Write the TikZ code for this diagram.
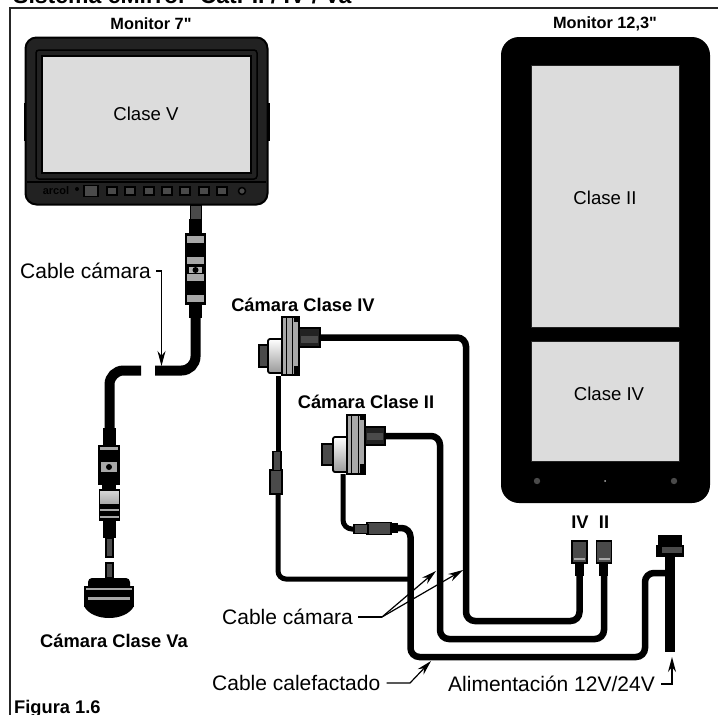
\documentclass[tikz,border=0pt]{standalone}
\usepackage{fontspec}
\setmainfont{Liberation Sans}[Ligatures=TeXOff]
\usepackage{tikz}
\usetikzlibrary{arrows.meta,positioning,calc}
\definecolor{screengrey}{HTML}{DCDCDC}
\definecolor{bezel}{HTML}{222222}
\definecolor{plugdark}{HTML}{4A4A4A}
\definecolor{plugband}{HTML}{A8A8A8}
\tikzset{
  txt/.style={font=\fontsize{21}{23}\selectfont, inner sep=0pt},
  screentxt/.style={font=\fontsize{18.6}{20}\selectfont, inner sep=0pt},
  boldtxt/.style={font=\fontsize{18.3}{20}\selectfont\bfseries, inner sep=0pt},
  montxt/.style={font=\fontsize{16.3}{18}\selectfont\bfseries, inner sep=0pt},
  screen/.style={draw=bezel, line width=0.8pt, fill=screengrey, inner sep=0pt},
  btn/.style={draw=black, line width=1.2pt, fill=plugdark, minimum width=10pt, minimum height=8pt, inner sep=0pt},
  plug/.style={draw=black, line width=1.5pt, fill=plugdark, inner sep=0pt},
  cable/.style={line width=6.5pt, black, rounded corners=9pt},
  thickcable/.style={line width=10pt, black, rounded corners=14pt},
  leader/.style={line width=1.2pt, -{Stealth[length=15pt,width=8pt]}},
  leaderline/.style={line width=1.2pt}
}
\begin{document}
\begin{tikzpicture}[x=1pt,y=-1pt]
    \useasboundingbox (0,0) rectangle (718,715);

    % frame and headings
    \draw[line width=2pt, gray!30!black] (718,8) -- (10,8) -- (10,715);
    \node[anchor=base west, font=\fontsize{23}{25}\selectfont\bfseries, inner sep=0pt] (title) at (13,3) {Sistema eMirror\ \ Cat. II / IV / Va};
    \node[anchor=base west, boldtxt] (fig) at (14,713) {Figura 1.6};
    \node[montxt] (mon7lbl) at (151,24) {Monitor 7"};
    \node[montxt] (mon12lbl) at (605,24) {Monitor 12,3"};

    % small monitor
    \draw[fill=black] (24.5,103) rectangle (269.5,140);
    \node[draw=black, line width=2pt, fill=bezel, rounded corners=11pt, minimum width=242pt, minimum height=167pt, inner sep=0pt] (mon7) at (146.5,121) {};
    \node[draw=black, line width=1.5pt, fill=bezel, rounded corners=3pt, minimum width=221pt, minimum height=129pt, inner sep=0pt] (mon7in) at (146.5,114.5) {};
    \node[screen, draw=black, line width=1.8pt, minimum width=209pt, minimum height=117pt] (scrV) at (146.5,114.5) {};
    \node[screentxt] (lblV) at (146,114) {Clase V};
    \draw[line width=1.5pt] (27,182) -- (266,182);
    \node[font=\fontsize{11}{12}\selectfont\bfseries, inner sep=0pt] (logo) at (56,191) {arcol};
    \fill (77,189) circle (2);
    \node[btn, minimum width=14pt, minimum height=11pt] (btn0) at (91,191) {};
    \node[btn] (btn1) at (112,191) {};
    \node[btn] (btn2) at (130,191) {};
    \node[btn] (btn3) at (149,191) {};
    \node[btn] (btn4) at (167,191) {};
    \node[btn] (btn5) at (185,191) {};
    \node[btn] (btn6) at (204,191) {};
    \node[btn] (btn7) at (222,191) {};
    \draw[line width=1.5pt, fill=plugdark] (242,191) circle (3.5);

    % large monitor
    \node[fill=black, rounded corners=18pt, minimum width=209pt, minimum height=466pt, inner sep=0pt] (mon12) at (605.5,270) {};
    \node[screen, minimum width=148pt, minimum height=262pt] (scrII) at (605,196) {};
    \node[screen, minimum width=148pt, minimum height=120pt] (scrIV) at (605,401) {};
    \node[screentxt] (lblII) at (605,198) {Clase II};
    \node[screentxt] (lblIV) at (609,394) {Clase IV};
    \fill[plugdark] (537,481) circle (3.2);
    \fill[plugdark] (674,481) circle (3.2);
    \fill[gray!60] (605,481) circle (1);

    % camera cable of the small monitor
    \fill[plugdark] (190,205) rectangle (201,222);
    \draw[black, line width=0.8pt] (190,205) rectangle (201,222);
    \fill (189,219) rectangle (202,234);
    \fill (185,233) rectangle (206,305);
    \fill[plugband] (187,236) rectangle (204,243);
    \fill[plugband] (187,257) rectangle (204,264);
    \fill[white!70!black] (189,267) rectangle (202,273);
    \fill (195.5,270) circle (3);
    \fill[plugband] (187,274) rectangle (204,281);
    \fill[plugband] (187,295) rectangle (204,302);
    \fill (189,305) rectangle (202,318);
    \coordinate (cabTop) at (195.5,318);
    \coordinate (cabGapR) at (155,370.5);
    \coordinate (cabGapL) at (141,370.5);
    \coordinate (cabVa) at (109.5,428);
    \draw[thickcable] (cabTop) |- (cabGapR);
    \draw[thickcable] (cabGapL) -| (cabVa);

    % plug and camera class Va
    \fill (103,428) rectangle (116,446);
    \fill (98,445) rectangle (120,485);
    \fill[plugband] (100,447) rectangle (118,450);
    \fill[plugband] (101,462) rectangle (117,472);
    \fill (109,467) circle (3);
    \fill (102,485) rectangle (116,491);
    \draw[line width=1.5pt, top color=gray!30, bottom color=gray!70] (99.5,490) rectangle (119.5,505);
    \fill (99,505) rectangle (120,521);
    \fill[plugband] (100,509) rectangle (119,511);
    \fill[plugband] (100,516) rectangle (119,518);
    \fill (103,521) rectangle (116,538);
    \draw[fill=plugdark, line width=1.5pt] (106,538) rectangle (113,557);
    \draw[fill=plugdark, line width=1.5pt] (106,563) rectangle (113,578);
    \fill[rounded corners=4pt] (88,578) rectangle (130,596);
    \fill (84,586) rectangle (134,607);
    \fill[plugband] (86,588) rectangle (132,590);
    \fill[plugband] (88,597) rectangle (130,600);
    \fill (84,606) .. controls (92,622) and (126,622) .. (134,606) -- cycle;
    \node[boldtxt] (camVa) at (114,641) {Cámara Clase Va};

    % camera class IV
    \node[boldtxt] (camIV) at (303,305) {Cámara Clase IV};
    \draw[line width=1.8pt, fill=plugdark] (259,345) rectangle (268,367);
    \draw[line width=1.8pt, top color=white, bottom color=gray!80, rounded corners=2pt] (268,339) rectangle (283,373);
    \draw[line width=2pt, fill=plugband] (282,317) rectangle (299,375);
    \draw[line width=1pt] (286,317) -- (286,375);
    \draw[line width=1pt] (292,317) -- (292,375);
    \fill (294,316) rectangle (300,322);
    \fill (294,366) rectangle (300,376);
    \node[plug, fill=bezel, minimum width=21pt, minimum height=19pt] (backIV) at (309.5,337.5) {};
    \fill[plugdark] (301,336) rectangle (318,343);
    \coordinate (baseIV) at (278,376);

    % camera class II
    \node[boldtxt] (camII) at (366,402) {Cámara Clase II};
    \draw[line width=1.8pt, fill=plugdark] (322,444) rectangle (333,465);
    \draw[line width=1.8pt, top color=white, bottom color=gray!80, rounded corners=2pt] (333,437) rectangle (348,472);
    \draw[line width=2pt, fill=plugband] (347,415) rectangle (365,474);
    \draw[line width=1pt] (351,415) -- (351,474);
    \draw[line width=1pt] (358,415) -- (358,474);
    \fill (360,414) rectangle (366,420);
    \fill (360,464) rectangle (366,475);
    \node[plug, fill=bezel, minimum width=20pt, minimum height=18pt] (backII) at (375,436) {};
    \fill[plugdark] (367,433) rectangle (383,440);
    \coordinate (baseII) at (343,474);

    % plugs at the bottom right
    \node[plug, minimum width=15pt, minimum height=22pt] (plugIV) at (579.5,552) {};
    \node[plug, minimum width=15pt, minimum height=22pt] (plugII) at (604,552) {};
    \fill[plugband] (574,558) rectangle (585,560);
    \fill[plugband] (598.5,558) rectangle (609.5,560);
    \fill[black] (575,562) rectangle (584,576);
    \fill[black] (599,562) rectangle (608,576);
    \node[boldtxt] (lblplugIV) at (580,522) {IV};
    \node[boldtxt] (lblplugII) at (604,522) {II};
    \node[fill=black, minimum width=28pt, minimum height=12pt, inner sep=0pt] (power) at (670,551) {};
    \fill (658,535) rectangle (682,546);
    \fill[plugdark] (662,547) rectangle (682,553);
    \coordinate (powEnd) at (670,652);
    \coordinate (powJoin) at (670,573);

    % inline plugs
    \node[plug, minimum width=12pt, minimum height=24pt] (inlIV) at (276,482) {};
    \node[plug, minimum width=8pt, minimum height=19pt] (inlIVb) at (277,461) {};
    \node[plug, minimum width=24pt, minimum height=12pt] (inlII) at (379,528.5) {};
    \node[plug, minimum width=14pt, minimum height=9pt] (inlIIb) at (361,529) {};
    \node[plug, fill=black, minimum width=6pt, minimum height=9pt] (inlIIc) at (394,528) {};

    % coordinates of the cable bends
    \coordinate (bendIV) at (466,621);
    \coordinate (bendII) at (440,639);
    \coordinate (heatA) at (410.5,657);
    \coordinate (heatB) at (645,657);
    \coordinate (lowIV) at (278,579);
    \coordinate (lowJoin) at (410,579);

    % cables
    \draw[cable] (backIV.east) -| (bendIV) -| ([yshift=-1pt]plugIV.south);
    \draw[cable] (backII.east) -| (bendII) -| ([yshift=-1pt]plugII.south);
    \draw[cable, line width=5pt] (baseII) |- (inlIIb.west);
    \draw[cable] (inlIIc.east) -| (heatA) -| (645,620) |- (powJoin);
    \draw[line width=5pt] (baseIV) -- (inlIVb.north -| baseIV);
    \draw[line width=5pt, rounded corners=8pt] (inlIV.south -| baseIV) |- (lowJoin);
    \draw[line width=10pt] (power.south) -- (powEnd);

    % labels with their leaders
    \node[txt, anchor=west] (lblCam) at (20,271) {Cable cámara};
    \node[txt, anchor=west] (lblCam2) at (222,617) {Cable cámara};
    \node[txt, anchor=west] (lblHeat) at (212,683) {Cable calefactado};
    \node[txt, anchor=west] (lblPow) at (448,684) {Alimentación 12V/24V};
    \coordinate (tipCam) at (161.5,366);
    \coordinate (junCam) at (382,617);
    \coordinate (tipA) at (436,571);
    \coordinate (tipB) at (463,570);
    \coordinate (kneeHeat) at (410,682);
    \coordinate (tipHeat) at (431,661);
    \coordinate (tipPow) at (672,657);
    \draw[leader] ([xshift=5pt]lblCam.east) -| (tipCam);
    \draw[leaderline] ([xshift=5pt]lblCam2.east) -- (junCam);
    \draw[leader] (junCam) -- (tipA);
    \draw[leader] (junCam) -- (tipB);
    \draw[leader] ([xshift=6pt]lblHeat.east) -- (kneeHeat |- lblHeat.east) -- (tipHeat);
    \draw[leader] ([xshift=6pt]lblPow.east) -| (tipPow);
\end{tikzpicture}
\end{document}
